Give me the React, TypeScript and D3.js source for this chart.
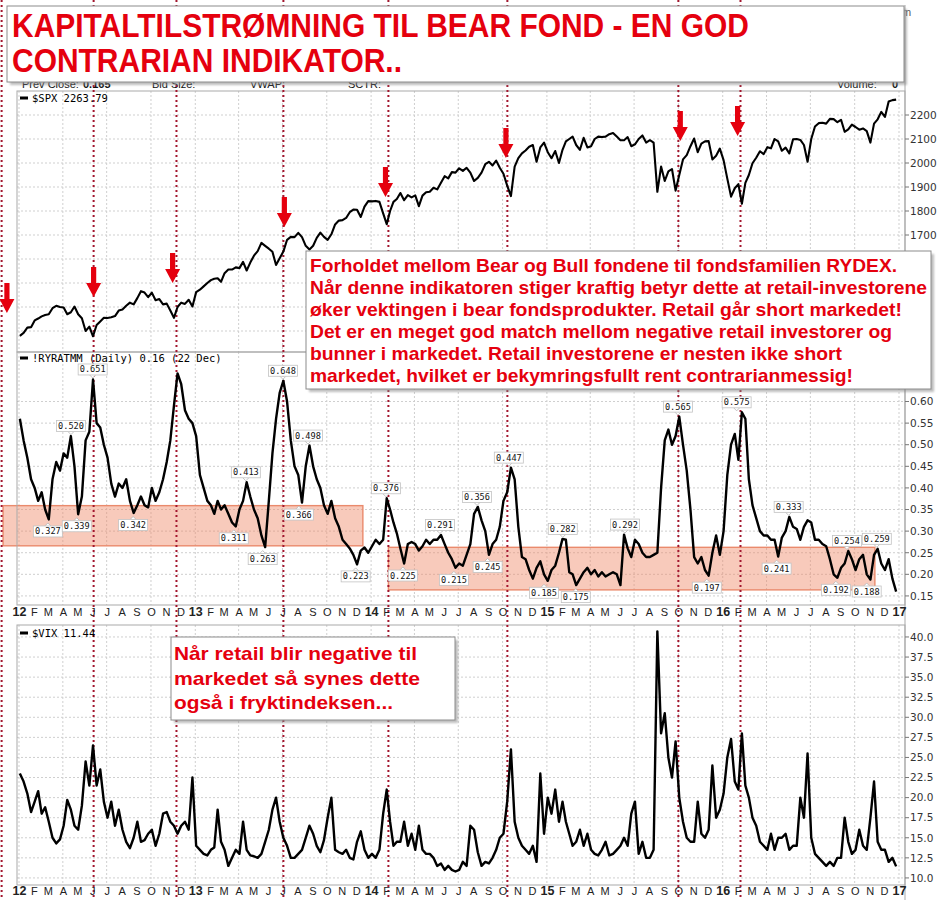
import React from 'react';
import * as d3 from 'd3';

// ---------- DATA (4 samples per month, Jan..Dec) ----------
const spx2012 = [1280,1292,1314,1316, 1344,1352,1361,1367, 1370,1395,1405,1400, 1398,1370,1378,1402, 1370,1353,1300,1318, 1278,1325,1340,1355, 1354,1357,1362,1385, 1390,1405,1418,1411, 1437,1466,1460,1441, 1460,1428,1433,1411, 1414,1385,1355,1400, 1418,1413,1430,1402];
const spx2013 = [1462,1472,1486,1500, 1512,1518,1520,1505, 1541,1556,1556,1565, 1562,1588,1552,1585, 1614,1633,1667,1655, 1643,1630,1575,1603, 1631,1680,1692,1691, 1709,1691,1655,1640, 1655,1688,1710,1692, 1680,1703,1744,1760, 1762,1771,1795,1806, 1805,1775,1818,1841];
const spx2014 = [1840,1842,1838,1790, 1745,1800,1838,1850, 1875,1845,1866,1857, 1865,1820,1864,1878, 1880,1897,1890,1918, 1945,1936,1962,1960, 1978,1967,1980,1960, 1925,1938,1960,1995, 2005,1990,2010,1980, 1955,1906,1862,1985, 2020,2040,2052,2068, 2075,2005,2065,2085];
const spx2015 = [2045,2020,2050,2000, 2055,2090,2100,2110, 2075,2055,2105,2065, 2070,2100,2110,2108, 2110,2120,2125,2110, 2095,2095,2108,2070, 2078,2100,2115,2085, 2095,2085,1880,1985, 1925,1965,1975,1885, 1950,2015,2033,2070, 2102,2045,2081,2090, 2091,2015,2030,2060];
const spx2016 = [2012,1935,1860,1895, 1912,1830,1917,1950, 1999,2022,2049,2037, 2066,2061,2100,2090, 2051,2064,2040,2099, 2100,2096,2075,2005, 2100,2152,2166,2168, 2164,2184,2183,2170, 2180,2130,2140,2160, 2150,2139,2144,2133, 2085,2164,2182,2213, 2192,2256,2262,2264];

const ry2012 = [0.56,0.51,0.47,0.42, 0.40,0.37,0.39,0.35, 0.327,0.42,0.46,0.44, 0.48,0.47,0.52,0.45, 0.339,0.38,0.51,0.53, 0.651,0.55,0.54,0.50, 0.47,0.41,0.38,0.41, 0.40,0.42,0.37,0.342, 0.36,0.38,0.36,0.355, 0.40,0.37,0.39,0.42, 0.46,0.51,0.59,0.665, 0.64,0.58,0.56,0.55];
const ry2013 = [0.52,0.43,0.40,0.37, 0.36,0.34,0.37,0.35, 0.36,0.34,0.32,0.311, 0.35,0.37,0.413,0.38, 0.35,0.33,0.29,0.263, 0.37,0.48,0.56,0.62, 0.648,0.60,0.51,0.45, 0.43,0.366,0.45,0.498, 0.45,0.42,0.40,0.36, 0.34,0.37,0.33,0.31, 0.28,0.27,0.26,0.245, 0.223,0.255,0.262,0.25];
const ry2014 = [0.265,0.28,0.27,0.28, 0.376,0.35,0.32,0.295, 0.26,0.225,0.27,0.275, 0.27,0.255,0.265,0.28, 0.27,0.28,0.28,0.291, 0.27,0.25,0.235,0.215, 0.225,0.22,0.245,0.27, 0.34,0.356,0.325,0.30, 0.245,0.27,0.28,0.31, 0.37,0.39,0.447,0.42, 0.31,0.24,0.235,0.21, 0.19,0.215,0.23,0.20];
const ry2015 = [0.185,0.21,0.22,0.25, 0.282,0.28,0.205,0.20, 0.175,0.19,0.205,0.215, 0.20,0.21,0.195,0.205, 0.195,0.20,0.205,0.20, 0.175,0.292,0.26,0.24, 0.28,0.27,0.25,0.24, 0.24,0.245,0.25,0.40, 0.51,0.535,0.50,0.52, 0.565,0.50,0.44,0.35, 0.24,0.225,0.24,0.21, 0.197,0.25,0.29,0.245];
const ry2016 = [0.30,0.43,0.50,0.525, 0.465,0.575,0.56,0.42, 0.36,0.33,0.30,0.29, 0.29,0.28,0.28,0.241, 0.285,0.30,0.333,0.31, 0.305,0.28,0.31,0.325, 0.32,0.28,0.28,0.27, 0.265,0.235,0.20,0.192, 0.215,0.225,0.254,0.235, 0.21,0.235,0.245,0.20, 0.188,0.245,0.259,0.225, 0.21,0.235,0.19,0.16];

const vix2012 = [23,22,20.5,18.2, 19.5,20.8,18,18.8, 17,15,14.3,14.8, 16.5,19.7,18.5,16.5, 16,19,24.5,21.5, 26.5,21.5,23.5,19.5, 17.5,19.5,16.5,18.5, 16,14.5,13.7,15, 17,14.5,14.7,15.5, 16,14,15.5,18, 18.2,17,16.5,15.5, 16.5,17,16,22.5];
const vix2013 = [14,13.5,13,12.8, 13.5,13.8,18.5,14.5, 13.5,11.5,12.5,13.5, 13,17,13.5,12.8, 12.7,12.5,13,14.5, 16,18.5,20,17, 15,14,12.5,12.5, 13,13.5,15,16.5, 15.5,14,13.2,14.7, 17.5,20,13.5,13.2, 13,13.5,12.5,12.3, 14.5,15.8,13.5,12.5];
const vix2014 = [13,12.5,13.5,18, 21,17,14,14.5, 14.5,17,14,15.5, 13.5,16.5,13.5,13, 13,12.5,11.5,11.8, 11,11.5,11,10.8, 11,12,11.5,16.5, 16,13.2,11.5,12, 11.8,12.5,13.5,15, 15.5,19.5,26,17, 15,14,13.5,13, 14,12,23,15.5];
const vix2015 = [20,18,21,17, 19.5,17,15.5,14, 14.5,16,14,15.5, 13.5,13,12.8,13.5, 14.5,12.8,13,13.5, 14,15,14,18, 19.5,13,14.5,12.5, 12.5,13.5,40.7,28, 30.5,25,22.5,27, 20,17,15,14.5, 14.5,19.5,15.5,15, 16,24,17.5,18.5];
const vix2016 = [20.5,25,27.3,22, 21,28,21.5,20, 17.5,16.5,14.5,14, 13.5,15.5,13.5,15, 15,15.5,13.5,14, 14,20,17.5,25.5, 15,13,12.5,12, 11.5,12,11.5,12.5, 12.5,17.5,14.5,13, 13.5,16,14,13.5, 17.5,22,14.5,13.5, 13.5,12,12.5,11.44];

const sampleYears = [2012, 2013, 2014, 2015, 2016];
const spxByYear = [spx2012, spx2013, spx2014, spx2015, spx2016];
const ryByYear = [ry2012, ry2013, ry2014, ry2015, ry2016];
const vixByYear = [vix2012, vix2013, vix2014, vix2015, vix2016];

const spxTicks = [1300, 1400, 1500, 1600, 1700, 1800, 1900, 2000, 2100, 2200];
const spxLabelTicks = [1700, 1800, 1900, 2000, 2100, 2200];
const ryTicks = [0.15, 0.2, 0.25, 0.3, 0.35, 0.4, 0.45, 0.5, 0.55, 0.6];
const vixTicks = [10, 12.5, 15, 17.5, 20, 22.5, 25, 27.5, 30, 32.5, 35, 37.5, 40];
const monthLetters = ['J', 'F', 'M', 'A', 'M', 'J', 'J', 'A', 'S', 'O', 'N', 'D'];

const eventDates = ['2011-11-28', '2012-06-06', '2012-11-25', '2013-07-05', '2014-02-08', '2014-10-13', '2015-10-03', '2016-02-09'];
const arrowMarks = [
  { date: '2011-12-09', level: 1375 }, { date: '2012-06-06', level: 1442 }, { date: '2012-11-17', level: 1500 },
  { date: '2013-07-07', level: 1733 }, { date: '2014-02-02', level: 1858 }, { date: '2014-10-10', level: 2021 },
  { date: '2015-10-07', level: 2092 }, { date: '2016-02-03', level: 2112 },
];
const ryLabels = [
  { date: '2012-03-03', value: 0.327, pos: 'below' }, { date: '2012-04-20', value: 0.520, pos: 'above' },
  { date: '2012-05-02', value: 0.339, pos: 'below' }, { date: '2012-06-04', value: 0.651, pos: 'above' },
  { date: '2012-08-27', value: 0.342, pos: 'below' }, { date: '2013-03-24', value: 0.311, pos: 'below' },
  { date: '2013-04-18', value: 0.413, pos: 'above' }, { date: '2013-05-23', value: 0.263, pos: 'below' },
  { date: '2013-07-04', value: 0.648, pos: 'above' }, { date: '2013-08-06', value: 0.366, pos: 'below' },
  { date: '2013-08-25', value: 0.498, pos: 'above' }, { date: '2013-12-02', value: 0.223, pos: 'below' },
  { date: '2014-02-03', value: 0.376, pos: 'above' }, { date: '2014-03-10', value: 0.225, pos: 'below' },
  { date: '2014-05-26', value: 0.291, pos: 'above' }, { date: '2014-06-24', value: 0.215, pos: 'below' },
  { date: '2014-08-11', value: 0.356, pos: 'above' }, { date: '2014-09-02', value: 0.245, pos: 'below' },
  { date: '2014-10-16', value: 0.447, pos: 'above' }, { date: '2014-12-28', value: 0.185, pos: 'below' },
  { date: '2015-02-05', value: 0.282, pos: 'above' }, { date: '2015-03-04', value: 0.175, pos: 'below' },
  { date: '2015-06-14', value: 0.292, pos: 'above' }, { date: '2015-10-02', value: 0.565, pos: 'above' },
  { date: '2015-12-01', value: 0.197, pos: 'below' }, { date: '2016-02-01', value: 0.575, pos: 'above' },
  { date: '2016-04-24', value: 0.241, pos: 'below' }, { date: '2016-05-19', value: 0.333, pos: 'above' },
  { date: '2016-08-25', value: 0.192, pos: 'below' }, { date: '2016-09-17', value: 0.254, pos: 'above' },
  { date: '2016-10-28', value: 0.188, pos: 'below' }, { date: '2016-11-18', value: 0.259, pos: 'above' },
];
const zoneBands = [
  { from: '2011-12-01', to: '2013-12-17', hi: 0.359, lo: 0.266 },
  { from: '2014-02-08', to: '2016-11-14', hi: 0.2625, lo: 0.164 },
];

const titleLines = ['KAPITALTILSTRØMNING TIL BEAR FOND - EN GOD', 'CONTRARIAN INDIKATOR..'];
const noteLines = [
  'Forholdet mellom Bear og Bull fondene til fondsfamilien RYDEX.',
  'Når denne indikatoren stiger kraftig betyr dette at retail-investorene',
  'øker vektingen i bear fondsprodukter. Retail går short markedet!',
  'Det er en meget god match mellom negative retail investorer og',
  'bunner i markedet. Retail investorene er nesten ikke short',
  'markedet, hvilket er bekymringsfullt rent contrarianmessig!',
];
const vixNoteLines = ['Når retail blir negative til', 'markedet så synes dette', 'også i fryktindeksen...'];
const legendTexts = ['$SPX 2263.79', '!RYRATMM (Daily) 0.16 (22 Dec)', '$VIX 11.44'];

// ---------- LAYOUT ----------
const PL = 17, PR = 905;
const RED = '#e5000e';
const DOT = '#a3162e';
const AXIS_FONT = 'DejaVu Sans, Verdana, sans-serif';
const MONO = 'DejaVu Sans Mono, monospace';
const ARIAL = 'Liberation Sans, Arial, sans-serif';

function sampleDates(year: number): Date[] {
  const out: Date[] = [];
  for (let m = 0; m < 12; m++) {
    const s = +new Date(year, m, 1);
    const e = +new Date(year, m + 1, 1);
    for (let i = 0; i < 4; i++) out.push(new Date(s + ((e - s) * (i + 0.5)) / 4));
  }
  return out;
}

export default function App() {
  const parse = d3.timeParse('%Y-%m-%d');
  const x = d3.scaleTime().domain([new Date(2012, 0, 1), new Date(2017, 0, 1)]).range([18, 898]);
  const ySpx = d3.scaleLinear().domain([1212.5, 2300]).range([352, 91]);
  const yRy = d3.scaleLinear().domain([0.129, 0.7146]).range([605, 352]);
  const yVix = d3.scaleLinear().domain([9.12, 41.49]).range([885, 625]);

  const dates = sampleYears.flatMap((y) => sampleDates(y));
  const mk = (vals: number[], ys: any) =>
    d3.line<number>().x((_, i) => x(dates[i])).y((v) => ys(v))(vals) || '';
  const spxPath = mk(spxByYear.flat(), ySpx);
  const ryPath = mk(ryByYear.flat(), yRy);
  const vixPath = mk(vixByYear.flat(), yVix);

  const panels = [
    { top: 91, bottom: 352, ys: ySpx, ticks: spxTicks, labels: spxLabelTicks, fmt: (v: number) => String(v) },
    { top: 352, bottom: 605, ys: yRy, ticks: ryTicks, labels: ryTicks, fmt: (v: number) => v.toFixed(2) },
    { top: 625, bottom: 885, ys: yVix, ticks: vixTicks, labels: vixTicks, fmt: (v: number) => v.toFixed(1) },
  ];
  const quarters = d3.timeMonth.every(3)!.range(new Date(2012, 0, 1), new Date(2017, 0, 2));
  const months = d3.timeMonth.range(new Date(2012, 0, 1), new Date(2017, 0, 2));

  const shadowBox = (bx: number, by: number, bw: number, bh: number) => (
    <g>
      <rect x={bx + 3} y={by + 3} width={bw} height={bh} fill="#8a8a8a" opacity={0.55} filter="url(#blur)" />
      <rect x={bx} y={by} width={bw} height={bh} fill="#fff" stroke="#8c8c8c" strokeWidth={1} />
    </g>
  );

  const noteWidths = [587, 617, 592, 582, 532, 543];
  const vixNoteWidths = [243, 246, 219];

  return (
    <svg width={950} height={900} style={{ display: 'block', position: 'absolute', left: 0, top: 0 }}>
      <defs>
        <filter id="blur" x="-5%" y="-5%" width="110%" height="110%">
          <feGaussianBlur stdDeviation={1.2} />
        </filter>
        {panels.map((p, i) => (
          <clipPath id={`clip${i}`} key={i}>
            <rect x={PL} y={p.top} width={PR - PL} height={p.bottom - p.top} />
          </clipPath>
        ))}
      </defs>
      <rect x={0} y={0} width={950} height={900} fill="#fff" />

      {/* header row */}
      <g fontFamily={ARIAL} fontSize={11} fill="#111">
        <text x={22} y={88}>Prev Close:</text>
        <text x={83} y={88} fontWeight="bold">0.165</text>
        <text x={152} y={88}>Bid Size:</text>
        <text x={250} y={88}>VWAP:</text>
        <text x={348} y={88}>SCTR:</text>
        <text x={837} y={88}>Volume:</text>
        <text x={892} y={88} fontWeight="bold">0</text>
        <text x={902} y={16} fill="#555">m</text>
      </g>

      {/* grids */}
      {panels.map((p, i) => (
        <g key={i}>
          {p.ticks.map((t) => (
            <line key={t} x1={PL} x2={PR} y1={p.ys(t)} y2={p.ys(t)} stroke="#cfcfcf" strokeDasharray="2,2" />
          ))}
          {quarters.map((q, j) => (
            <line key={j} x1={x(q) + 1} x2={x(q) + 1} y1={p.top} y2={p.bottom} stroke="#cfcfcf" strokeDasharray="2,2" />
          ))}
        </g>
      ))}

      {/* zone bands */}
      {zoneBands.map((b, i) => {
        const x0 = x(parse(b.from)!), x1 = x(parse(b.to)!);
        const y0 = yRy(b.hi), y1 = yRy(b.lo);
        return (
          <g key={i}>
            <rect x={x0} y={y0} width={x1 - x0} height={y1 - y0} fill="#f08a68" opacity={0.45} />
            <rect x={x0} y={y0} width={x1 - x0} height={y1 - y0} fill="none" stroke="#ea8a6c" strokeWidth={1.4} />
          </g>
        );
      })}

      {/* panel borders */}
      {panels.map((p, i) => (
        <rect key={i} x={PL} y={p.top} width={PR - PL} height={p.bottom - p.top} fill="none" stroke="#a9a9a9" strokeWidth={1} />
      ))}
      <line x1={PR} x2={PR} y1={5} y2={900} stroke="#a9a9a9" />

      {/* red dotted event lines */}
      {eventDates.map((d, i) => (
        <line key={i} x1={x(parse(d)!)} x2={x(parse(d)!)} y1={0} y2={900} stroke={DOT} strokeWidth={2} strokeDasharray="2,3" />
      ))}

      {/* data lines */}
      <path d={spxPath} fill="none" stroke="#000" strokeWidth={2.1} strokeLinejoin="round" clipPath="url(#clip0)" />
      <path d={ryPath} fill="none" stroke="#000" strokeWidth={2.4} strokeLinejoin="round" clipPath="url(#clip1)" />
      <path d={vixPath} fill="none" stroke="#000" strokeWidth={2.4} strokeLinejoin="round" clipPath="url(#clip2)" />

      {/* value labels */}
      {ryLabels.map((l, i) => {
        const px = x(parse(l.date)!);
        const py = yRy(l.value);
        const above = l.pos === 'above';
        const cy = above ? py - 10 : py + 12;
        const w = 29, h = 11;
        const bx = px - w / 2, by = cy - h / 2;
        const tri = above
          ? `M${px - 3},${by + h} L${px},${by + h + 3} L${px + 3},${by + h}`
          : `M${px - 3},${by} L${px},${by - 3} L${px + 3},${by}`;
        return (
          <g key={i}>
            <path d={tri} fill="#fff" stroke="#b5b5b5" strokeWidth={0.8} />
            <rect x={bx} y={by} width={w} height={h} fill="#fff" stroke="#c2c2c2" strokeWidth={0.8} />
            <text x={px} y={cy} dy="0.35em" textAnchor="middle" fontSize={8.6} fontFamily={MONO} fill="#111">
              {l.value.toFixed(3)}
            </text>
          </g>
        );
      })}

      {/* arrows */}
      {arrowMarks.map((a, i) => {
        const ax = x(parse(a.date)!);
        const ay = ySpx(a.level);
        const d = `M${ax - 2.6},${ay - 30} L${ax + 2.6},${ay - 30} L${ax + 2.6},${ay - 14} L${ax + 7.5},${ay - 14} L${ax},${ay} L${ax - 7.5},${ay - 14} L${ax - 2.6},${ay - 14} Z`;
        return <path key={i} d={d} fill={RED} />;
      })}

      {/* right axis */}
      {panels.map((p, i) => (
        <g key={i} fontFamily={AXIS_FONT} fontSize={10.5} fill="#333">
          {p.labels.map((t) => (
            <g key={t}>
              <line x1={PR} x2={PR + 4} y1={p.ys(t)} y2={p.ys(t)} stroke="#777" />
              <text x={PR + 5} y={p.ys(t)} dy="0.36em">{p.fmt(t)}</text>
            </g>
          ))}
        </g>
      ))}

      {/* x axis labels */}
      {[616, 895].map((ly, k) => (
        <g key={k} fontFamily={ARIAL} fill="#222" textAnchor="middle">
          {months.map((m, j) => {
            const isYear = m.getMonth() === 0;
            return (
              <text key={j} x={x(m) + 1.5} y={ly} fontSize={isYear ? 12.5 : 11} fontWeight={isYear ? 'bold' : 'normal'}>
                {isYear ? String(m.getFullYear()).slice(2) : monthLetters[m.getMonth()]}
              </text>
            );
          })}
        </g>
      ))}

      {/* legends */}
      {[98, 358, 633].map((ly, i) => (
        <g key={i}>
          <rect x={20} y={ly - 1.5} width={8} height={3} fill="#000" />
          <text x={32} y={ly} dy="0.35em" fontFamily={MONO} fontSize={10.5} fill="#000">{legendTexts[i]}</text>
        </g>
      ))}

      {/* annotation: RYDEX note */}
      {shadowBox(306, 251, 625, 138)}
      <g fontFamily={ARIAL} fontWeight="bold" fontSize={19} fill={RED}>
        {noteLines.map((t, i) => (
          <text key={i} x={310} y={272 + i * 21.9} textLength={noteWidths[i]} lengthAdjust="spacingAndGlyphs">{t}</text>
        ))}
      </g>

      {/* annotation: VIX note */}
      {shadowBox(171, 637, 284, 83)}
      <g fontFamily={ARIAL} fontWeight="bold" fontSize={19} fill={RED}>
        {vixNoteLines.map((t, i) => (
          <text key={i} x={174} y={660 + i * 24.7} textLength={vixNoteWidths[i]} lengthAdjust="spacingAndGlyphs">{t}</text>
        ))}
      </g>

      {/* title */}
      {shadowBox(7, 6, 897, 76)}
      <g fontFamily={ARIAL} fontWeight="bold" fontSize={34} fill={RED}>
        <text x={12} y={37} textLength={737} lengthAdjust="spacingAndGlyphs">{titleLines[0]}</text>
        <text x={12} y={72} textLength={390} lengthAdjust="spacingAndGlyphs">{titleLines[1]}</text>
      </g>
    </svg>
  );
}
